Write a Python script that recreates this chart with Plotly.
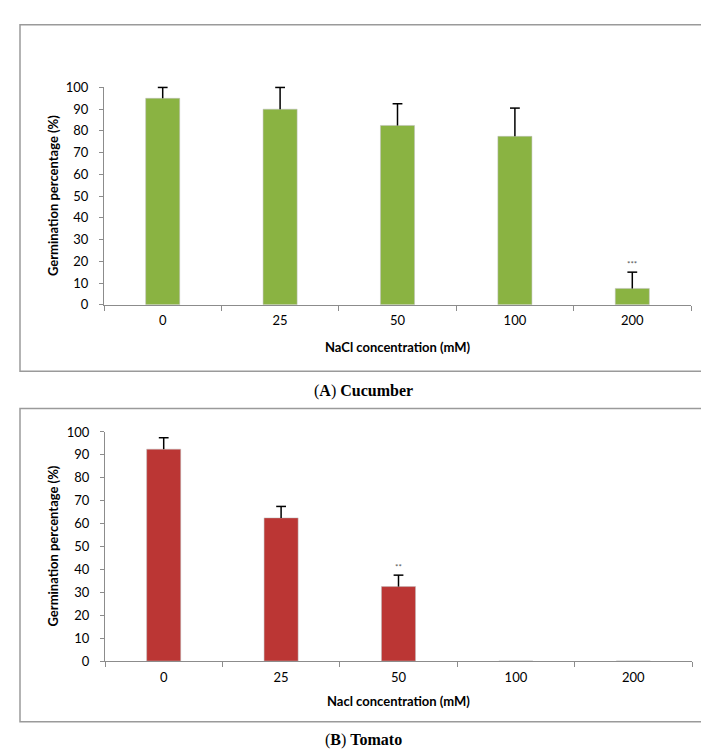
import plotly.graph_objects as go

# ---- data ----
categories = ["0", "25", "50", "100", "200"]
cucumber_values = [95, 90, 82.5, 77.5, 7.5]
cucumber_errors = [5, 10, 10, 13, 7.5]
cucumber_sig = ["", "", "", "", "***"]
tomato_values = [92.5, 62.5, 32.5, 0, 0]
tomato_errors = [5, 5, 5, None, None]
tomato_sig = ["", "", "**", "", ""]
y_ticks = [0, 10, 20, 30, 40, 50, 60, 70, 80, 90, 100]

W, H = 709, 755
def py(px):
    return 1 - px / H
def px_(x):
    return x / W

GREEN = "#8ab342"
RED = "#bb3634"
AXIS_GREY = "#8c8c8c"
FONT = "Lato"

fig = go.Figure()

def add_panel(values, errors, sig, xa, ya, color):
    fig.add_trace(go.Bar(
        x=categories, y=values, xaxis=xa, yaxis=ya,
        marker=dict(color=color, line=dict(color="rgba(190,190,190,0.5)", width=1)),
        error_y=dict(type="data", array=errors, arrayminus=[0] * len(values), symmetric=False,
                     color="black", thickness=1.5, width=0),
        showlegend=False, hoverinfo="skip",
    ))
    # caps at the top of the error bars only
    cx, cy = [], []
    for c, v, e in zip(categories, values, errors):
        if e is not None:
            cx.append(c)
            cy.append(v + e)
    fig.add_trace(go.Scatter(
        x=cx, y=cy, xaxis=xa, yaxis=ya, mode="markers",
        marker=dict(symbol="line-ew", size=7, line=dict(color="black", width=1.5)),
        showlegend=False, hoverinfo="skip", cliponaxis=False,
    ))
    for i, (v, e, s) in enumerate(zip(values, errors, sig)):
        if s:
            fig.add_annotation(x=i, y=v + e, xref=xa, yref=ya, text=s, showarrow=False,
                               yanchor="bottom", yshift=1,
                               font=dict(family=FONT, size=8, color="#555"))

add_panel(cucumber_values, cucumber_errors, cucumber_sig, "x", "y", GREEN)
add_panel(tomato_values, tomato_errors, tomato_sig, "x2", "y2", RED)

common_x = dict(
    type="category", categoryorder="array", categoryarray=categories,
    range=[-0.5, len(categories) - 0.5],
    showline=True, linecolor=AXIS_GREY, linewidth=1,
    ticks="outside", tickson="boundaries", ticklen=5, tickcolor=AXIS_GREY,
    tickfont=dict(family=FONT, size=13, color="black"), tickangle=0,
    ticklabelstandoff=4, showgrid=False, zeroline=False, fixedrange=True,
)
common_y = dict(
    range=[0, 100], tickvals=y_ticks,
    showline=True, linecolor=AXIS_GREY, linewidth=1,
    ticks="outside", ticklen=4, tickcolor=AXIS_GREY,
    tickfont=dict(family=FONT, size=13, color="black"),
    ticklabelstandoff=8, showgrid=False, zeroline=False, fixedrange=True,
)

fig.update_layout(
    width=W, height=H,
    margin=dict(l=0, r=0, t=0, b=0),
    paper_bgcolor="white", plot_bgcolor="white",
    bargap=0.71,
    xaxis=dict(domain=[px_(96), px_(683)], anchor="y", **common_x),
    yaxis=dict(domain=[py(295), py(73)], anchor="x", **common_y),
    xaxis2=dict(domain=[px_(97), px_(684)], anchor="y2", **common_x),
    yaxis2=dict(domain=[py(659), py(425)], anchor="x2", **common_y),
)

# frames around each panel
for y0, y1 in [(363, 9), (721, 401)]:
    fig.add_shape(type="rect", xref="paper", yref="paper",
                  x0=px_(12), x1=px_(700), y0=py(y0), y1=py(y1),
                  line=dict(color="#9a9a9a", width=1.5), fillcolor="rgba(0,0,0,0)")

# axis titles
for yc, xt, ytc in [(184, "NaCl concentration (mM)", 338), (542, "Nacl concentration (mM)", 700)]:
    fig.add_annotation(xref="paper", yref="paper", x=px_(390), y=py(ytc), text="<b>" + xt + "</b>",
                       showarrow=False, font=dict(family=FONT, size=13, color="black"),
                       xanchor="center", yanchor="middle")
    fig.add_annotation(xref="paper", yref="paper", x=px_(45), y=py(yc),
                       text="<b>Germination percentage (%)</b>", textangle=-90,
                       showarrow=False, font=dict(family=FONT, size=13, color="black"),
                       xanchor="center", yanchor="middle")

# captions
for txt, yc in [("(<b>A</b>) <b>Cucumber</b>", 383), ("(<b>B</b>) <b>Tomato</b>", 740)]:
    fig.add_annotation(xref="paper", yref="paper", x=px_(355), y=py(yc), text=txt,
                       showarrow=False, font=dict(family="Liberation Serif", size=16, color="black"),
                       xanchor="center", yanchor="middle")

fig.write_html("out.html")
